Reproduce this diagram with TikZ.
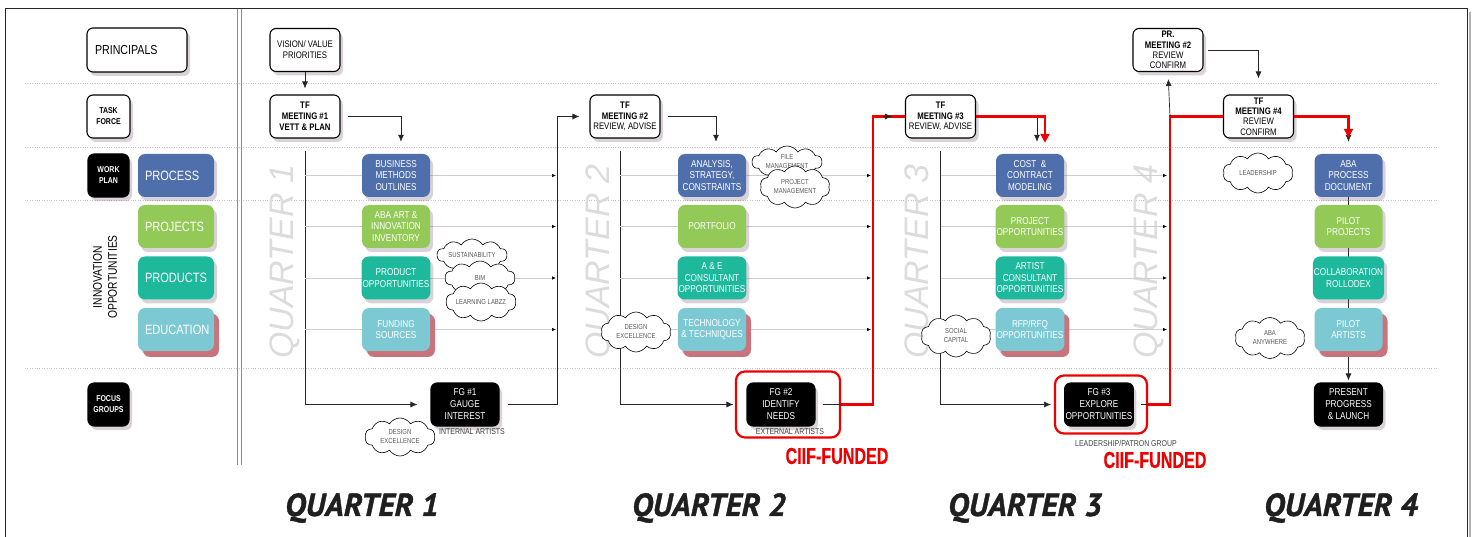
\documentclass[tikz,border=0pt]{standalone}
\usepackage{fontspec}
\setmainfont{Liberation Sans}
\newfontfamily\narrowfont[FakeStretch=0.82]{Liberation Sans}
\newfontfamily\slimfont[FakeStretch=0.7, BoldFeatures={FakeBold=0.6}]{Liberation Sans}
\newfontfamily\quarterfont[BoldItalicFeatures={FakeBold=1.2}]{PT Sans}
\usetikzlibrary{arrows.meta, shapes.symbols, shadows, backgrounds}

\definecolor{ProcessColor}{RGB}{79,110,172}
\definecolor{ProjectColor}{RGB}{147,201,86}
\definecolor{ProductColor}{RGB}{30,185,157}
\definecolor{EducationColor}{RGB}{124,201,212}
\definecolor{RoseColor}{RGB}{201,116,124}
\definecolor{ShadowColor}{RGB}{120,90,115}
\definecolor{FundColor}{RGB}{238,0,0}
\definecolor{LaneColor}{RGB}{195,195,195}
\definecolor{FeedColor}{RGB}{205,205,205}
\definecolor{MarkColor}{RGB}{220,220,220}

\tikzset{
  soft shadow/.style={drop shadow={shadow xshift=3pt, shadow yshift=-4pt, opacity=0.27, fill=ShadowColor}},
  headbox/.style={draw, line width=1.1pt, rounded corners=6pt, fill=white, minimum width=70pt, minimum height=43pt,
    inner sep=1pt, align=center, font=\narrowfont\fontsize{9.5}{10.8}\selectfont, soft shadow},
  darkbox/.style={headbox, fill=black, text=white, font=\narrowfont\fontsize{10}{12}\selectfont},
  tile/.style={rounded corners=7pt, minimum width=68pt, minimum height=43pt, inner sep=1pt, align=center,
    text=white, font=\narrowfont\fontsize{10}{11.5}\selectfont, soft shadow},
  rowlabel/.style={minimum width=76pt, text width=62pt, align=left, font=\narrowfont\fontsize{13.5}{16}\selectfont},
  process tile/.style={tile, fill=ProcessColor},
  project tile/.style={tile, fill=ProjectColor},
  product tile/.style={tile, fill=ProductColor},
  education tile/.style={tile, fill=EducationColor, general shadow={fill=RoseColor, shadow xshift=5pt, shadow yshift=-6pt}},
  idea/.style={cloud, cloud puffs=10, cloud puff arc=115, cloud ignores aspect, draw, line width=0.6pt, fill=white,
    minimum width=70pt, minimum height=38pt, inner sep=0pt, align=center, text=black!65,
    font=\narrowfont\fontsize{7.2}{9}\selectfont},
  lane/.style={draw=LaneColor, line width=0.6pt, dash pattern=on 1pt off 1.4pt},
  link/.style={draw=black!85, line width=0.7pt},
  flow/.style={link, -{Latex[length=7pt, width=6pt]}},
  feed/.style={draw=FeedColor, line width=0.7pt, -{Latex[length=4pt, width=3.5pt, color=black]}},
  fund/.style={draw=FundColor, line width=2.6pt},
  fund arrow/.style={fund, -{Triangle[length=9pt, width=9pt]}},
  fund frame/.style={draw=FundColor, line width=2.2pt, rounded corners=9pt},
  tag/.style={inner sep=0pt, text=black!75, font=\narrowfont\fontsize{8.5}{10}\selectfont},
  funded/.style={inner sep=0pt, text=FundColor, font=\slimfont\bfseries\fontsize{23}{23}\selectfont},
  quarter/.style={inner sep=0pt, text=black!88, font=\quarterfont\bfseries\itshape\fontsize{32}{32}\selectfont},
  watermark/.style={rotate=90, inner sep=0pt, text=MarkColor, font=\itshape\fontsize{34}{34}\selectfont}
}

\begin{document}
\begin{tikzpicture}[x=1pt, y=-1pt]
  \useasboundingbox (0,0) rectangle (1473,537);

  % Frame and divider
  \draw[black!85, line width=1pt] (5,560) |- (1467,9) -- (1467,560);
  \draw[black!30, line width=1.4pt] (1470,12) -- (1470,560);
  \draw[black!45, line width=0.8pt] (237,9) -- (237,465);
  \draw[black!45, line width=0.8pt] (241,9) -- (241,465);

  % Row headings
  \node[headbox, minimum width=100pt, minimum height=44pt, text width=84pt, align=left,
    font=\narrowfont\fontsize{13}{15}\selectfont] (principals) at (137,50) {PRINCIPALS};
  \node[headbox, minimum width=43pt, font=\narrowfont\bfseries\fontsize{8.5}{11}\selectfont] (taskforce) at (108.5,116.5) {TASK\\FORCE};
  \node[darkbox, minimum width=41pt, font=\narrowfont\bfseries\fontsize{8.5}{11}\selectfont] (workplan) at (108.5,175.5) {WORK\\PLAN};
  \node[process tile, rowlabel] (process) at (176,175.5) {PROCESS};
  \node[project tile, rowlabel] (projects) at (176,226.5) {PROJECTS};
  \node[product tile, rowlabel] (products) at (176,278) {PRODUCTS};
  \node[education tile, rowlabel] (education) at (176,329.5) {EDUCATION};
  \node[rotate=90, align=center, font=\narrowfont\fontsize{12.5}{15}\selectfont] (innovation) at (105,277) {INNOVATION\\OPPORTUNITIES};
  \node[darkbox, minimum width=41pt, font=\narrowfont\bfseries\fontsize{8.5}{11}\selectfont] (focus) at (108.5,404.5) {FOCUS\\GROUPS};

  % Quarter 1
  \node[headbox] (vision) at (305,50) {VISION/ VALUE\\PRIORITIES};
  \node[headbox] (tf1) at (305,116.5) {\textbf{TF}\\\textbf{MEETING \#1}\\\textbf{VETT \& PLAN}};
  \node[process tile] (business) at (396,175.5) {BUSINESS\\METHODS\\OUTLINES};
  \node[project tile] (inventory) at (396,226.5) {ABA ART \&\\INNOVATION\\INVENTORY};
  \node[product tile] (productop) at (396,278) {PRODUCT\\OPPORTUNITIES};
  \node[education tile] (funding) at (396,329.5) {FUNDING\\SOURCES};
  \node[idea, minimum height=32pt] (sustain) at (472,255) {SUSTAINABILITY};
  \node[idea, minimum height=34pt] (bim) at (480,278) {BIM};
  \node[idea] (labzz) at (481,302) {LEARNING LABZZ};
  \node[darkbox, minimum width=68pt] (fg1) at (465,404.5) {FG \#1\\GAUGE\\INTEREST};
  \node[tag] (internal) at (472,432) {INTERNAL ARTISTS};
  \node[idea] (design1) at (400,437) {DESIGN\\EXCELLENCE};

  % Quarter 2
  \node[headbox] (tf2) at (625,116.5) {\textbf{TF}\\\textbf{MEETING \#2}\\REVIEW, ADVISE};
  \node[process tile] (analysis) at (712,175.5) {ANALYSIS,\\STRATEGY,\\CONSTRAINTS};
  \node[project tile] (portfolio) at (712,226.5) {PORTFOLIO};
  \node[product tile] (aeconsult) at (712,278) {A \& E\\CONSULTANT\\OPPORTUNITIES};
  \node[education tile] (technology) at (712,329.5) {TECHNOLOGY\\\& TECHNIQUES};
  \node[idea, minimum height=32pt] (filemgmt) at (787,162) {FILE\\MANAGEMENT};
  \node[idea, minimum height=42pt] (projmgmt) at (795,187) {PROJECT\\MANAGEMENT};
  \node[idea, minimum height=40pt] (design2) at (636,332) {DESIGN\\EXCELLENCE};
  \node[fund frame, minimum width=104pt, minimum height=66pt] (fund2) at (788,404.5) {};
  \node[darkbox, minimum width=68pt] (fg2) at (781,404.5) {FG \#2\\IDENTIFY\\NEEDS};
  \node[tag] (external) at (790,432) {EXTERNAL ARTISTS};
  \node[funded] (ciif2) at (837,456) {CIIF-FUNDED};

  % Quarter 3
  \node[headbox] (tf3) at (940.5,116.5) {\textbf{TF}\\\textbf{MEETING \#3}\\REVIEW, ADVISE};
  \node[process tile] (cost) at (1030,175.5) {COST \ \&\\CONTRACT\\MODELING};
  \node[project tile] (projectop) at (1030,226.5) {PROJECT\\OPPORTUNITIES};
  \node[product tile] (artist) at (1030,278) {ARTIST\\CONSULTANT\\OPPORTUNITIES};
  \node[education tile] (rfp) at (1030,329.5) {RFP/RFQ\\OPPORTUNITIES};
  \node[idea, minimum height=42pt] (social) at (956,336) {SOCIAL\\CAPITAL};
  \node[fund frame, minimum width=92pt, minimum height=58pt] (fund3) at (1101,404.5) {};
  \node[darkbox, minimum width=68pt] (fg3) at (1099,404.5) {FG \#3\\EXPLORE\\OPPORTUNITIES};
  \node[tag] (patron) at (1126,443) {LEADERSHIP/PATRON GROUP};
  \node[funded] (ciif3) at (1155,460) {CIIF-FUNDED};

  % Quarter 4
  \node[headbox, font=\narrowfont\fontsize{9.5}{10.2}\selectfont] (pr2) at (1168,50) {\textbf{PR.}\\\textbf{MEETING \#2}\\REVIEW\\CONFIRM};
  \node[headbox, font=\narrowfont\fontsize{9.5}{10.2}\selectfont] (tf4) at (1258.5,116.5) {\textbf{TF}\\\textbf{MEETING \#4}\\REVIEW\\CONFIRM};
  \node[idea, minimum height=40pt] (leadership) at (1258,173) {LEADERSHIP};
  \node[process tile] (abadoc) at (1348.5,175.5) {ABA\\PROCESS\\DOCUMENT};
  \node[project tile] (pilotproj) at (1348.5,226.5) {PILOT\\PROJECTS};
  \node[product tile] (rolodex) at (1348.5,278) {COLLABORATION\\ROLLODEX};
  \node[education tile] (pilotart) at (1348.5,329.5) {PILOT\\ARTISTS};
  \node[idea, minimum height=41pt] (anywhere) at (1270,338) {ABA\\ANYWHERE};
  \node[darkbox, minimum width=68pt] (launch) at (1348.5,404.5) {PRESENT\\PROGRESS\\\& LAUNCH};

  % Quarter titles
  \node[quarter] (q1) at (362,508) {QUARTER 1};
  \node[quarter] (q2) at (709,508) {QUARTER 2};
  \node[quarter] (q3) at (1025,508) {QUARTER 3};
  \node[quarter] (q4) at (1341,508) {QUARTER 4};

  % Hand-off corners
  \coordinate (join1) at (557,116.5);
  \coordinate (join2) at (873,116.5);
  \coordinate (join3) at (1170,116.5);
  \coordinate (spine2) at ([xshift=-5pt]tf2.south);

  \begin{scope}[on background layer]
    % lanes and faint quarter marks
    \foreach \y in {83,147,200,368}
      \draw[lane] (25,\y) -- (1438,\y);
    \foreach \x/\q in {285/1,601/2,920/3,1149/4}
      \node[watermark] (mark\q) at (\x,262) {QUARTER \q};

    % spines down to the focus groups
    \draw[flow, shorten <=12pt, shorten >=13pt] (tf1.south) |- (fg1.west);
    \draw[flow, shorten <=12pt, shorten >=13pt] (spine2) |- (fg2.west);
    \draw[flow, shorten <=12pt, shorten >=13pt] (tf3.south) |- (fg3.west);

    % feeds across each quarter
    \foreach \t in {business,inventory,productop,funding}
      \draw[feed, shorten >=1pt] (tf1 |- \t) -- (join1 |- \t);
    \foreach \t in {analysis,portfolio,aeconsult,technology}
      \draw[feed, shorten >=2pt] (spine2 |- \t) -- (join2 |- \t);
    \foreach \t in {cost,projectop,artist,rfp}
      \draw[feed, shorten >=3pt] (tf3 |- \t) -- (join3 |- \t);
    \draw[flow, shorten >=2pt] (abadoc) -- (launch.north);
  \end{scope}

  % Meetings and hand-offs
  \draw[flow, shorten >=6pt] (vision) -- (tf1);
  \draw[flow, shorten <=7pt, shorten >=12pt] (tf1.east) -| ([xshift=5pt]business.north);
  \draw[flow, shorten <=8pt, shorten >=10pt] (fg1.east) -| (join1) -- (tf2.west);
  \draw[flow, shorten <=7pt, shorten >=12pt] (tf2.east) -| ([xshift=4pt]analysis.north);

  % CIIF-funded route
  \draw[link, shorten <=7pt] (fg2.east) -- (fund2.east);
  \draw[fund] (fund2.east) -| (join2) -- (tf3.west);
  \draw[flow] ([xshift=-22pt]tf3.west) -- ([xshift=-13pt]tf3.west);
  \draw[flow, shorten >=12pt] (tf3.east) -| ([xshift=7pt]cost.north);
  \draw[fund arrow, shorten >=11pt] (tf3.east) -| ([xshift=15pt]cost.north);
  \draw[link, shorten <=7pt] (fg3.east) -- (fund3.east);
  \draw[fund] (fund3.east) -| (join3) -- (tf4.west);
  \draw[flow, shorten >=7pt] (join3) -- (pr2.south);
  \draw[flow, shorten <=4pt, shorten >=16pt] (pr2.east) -| (tf4.north);
  \draw[flow, shorten >=12pt] (tf4.east) -| (abadoc.north);
  \draw[fund arrow, shorten >=16pt] (tf4.east) -| (abadoc.north);
\end{tikzpicture}
\end{document}
